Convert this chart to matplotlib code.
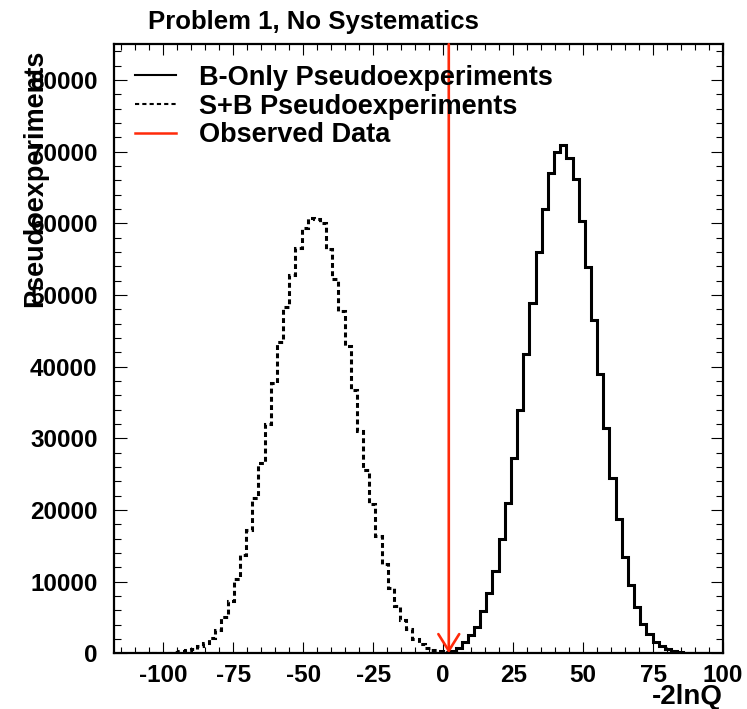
import numpy as np
import matplotlib
matplotlib.use("Agg")
import matplotlib.pyplot as plt
from matplotlib.lines import Line2D
from matplotlib.ticker import MultipleLocator

plt.rcParams['font.family'] = ['Liberation Sans', 'DejaVu Sans']
plt.rcParams['font.weight'] = 'bold'
plt.rcParams['axes.unicode_minus'] = False

# histogram binning (-2lnQ), 2.2 wide bins
bin_width = 2.2

# B-only pseudoexperiments, first bin starts at -4.4
b_low = -4.4
b_counts = [10, 30, 100, 310, 780, 1560, 2500, 3710, 5890, 8450,
            11470, 15900, 21000, 27300, 34000, 41750, 48950, 55950, 62050, 67050,
            69950, 70950, 69150, 66150, 60350, 53950, 46450, 38950, 31470, 24400,
            18680, 13480, 9510, 6500, 4130, 2730, 1560, 1000, 540, 310,
            170, 100, 50, 25, 10]

# S+B pseudoexperiments, first bin starts at -110
sb_low = -110.0
sb_counts = [5, 10, 20, 35, 60, 100, 160, 250, 400, 620,
             950, 1400, 2100, 3300, 5000, 7300, 10300, 13660, 17190, 21700,
             26590, 31930, 37750, 43410, 48350, 52860, 56580, 59370, 60760, 60670,
             60070, 56440, 52300, 47740, 42860, 36810, 31000, 25560, 20770, 16350,
             12400, 9150, 6590, 4630, 3330, 2040, 1300, 800, 450, 250,
             130, 60, 30, 15, 8]

observed = 2.0

legend_labels = ["B-Only Pseudoexperiments", "S+B Pseudoexperiments", "Observed Data"]
red = '#ff2a0a'

b_edges = np.round(b_low + bin_width * np.arange(len(b_counts) + 1), 2)
sb_edges = np.round(sb_low + bin_width * np.arange(len(sb_counts) + 1), 2)

fig = plt.figure(figsize=(7.47, 7.09), dpi=100)
ax = fig.add_axes([0.153, 0.0786, 0.815, 0.859])

ax.stairs(b_counts, b_edges, color='black', lw=2.2)
ax.stairs(sb_counts, sb_edges, color='black', lw=2.2, linestyle=(0, (1.6, 1.1)))

ymax = 85000
ax.annotate('', xy=(observed, 0), xytext=(observed, ymax),
            arrowprops=dict(arrowstyle='->,head_length=1.2,head_width=0.75',
                            color=red, lw=1.9, shrinkA=0, shrinkB=0),
            annotation_clip=False)

ax.set_xlim(-117.5, 100)
ax.set_ylim(0, ymax)

ax.xaxis.set_major_locator(MultipleLocator(25))
ax.xaxis.set_minor_locator(MultipleLocator(5))
ax.yaxis.set_major_locator(MultipleLocator(10000))
ax.yaxis.set_minor_locator(MultipleLocator(2000))
ax.tick_params(which='both', direction='in', top=True, right=True, width=0.8, labelsize=17.5)
ax.tick_params(axis='x', which='major', length=8, pad=8)
ax.tick_params(axis='x', which='minor', length=4)
ax.tick_params(axis='y', which='major', length=9, pad=12)
ax.tick_params(axis='y', which='minor', length=5)
for s in ax.spines.values():
    s.set_linewidth(1.6)

ax.set_ylabel("Pseudoexperiments", fontsize=19.5, fontweight='bold')
ax.yaxis.set_label_coords(-0.13, 0.78)
ax.yaxis.label.set_va('center')
ax.set_xlabel("-2lnQ", fontsize=20, fontweight='bold')
ax.xaxis.set_label_coords(1.0, -0.072)
ax.xaxis.label.set_ha('right')
ax.xaxis.label.set_va('center')

fig.text(0.198, 0.969, "Problem 1, No Systematics", fontsize=18.5, fontweight='bold',
         ha='left', va='center')

handles = [Line2D([], [], color='black', lw=1.5),
           Line2D([], [], color='black', lw=1.5, linestyle=(0, (2, 1.5))),
           Line2D([], [], color=red, lw=1.8)]
ax.legend(handles, legend_labels, loc='upper left', bbox_to_anchor=(0.034, 0.966),
          frameon=False, fontsize=19.5, handlelength=1.5, handletextpad=0.85,
          labelspacing=0.1, borderpad=0, borderaxespad=0)

fig.savefig("out.png", dpi=100)
